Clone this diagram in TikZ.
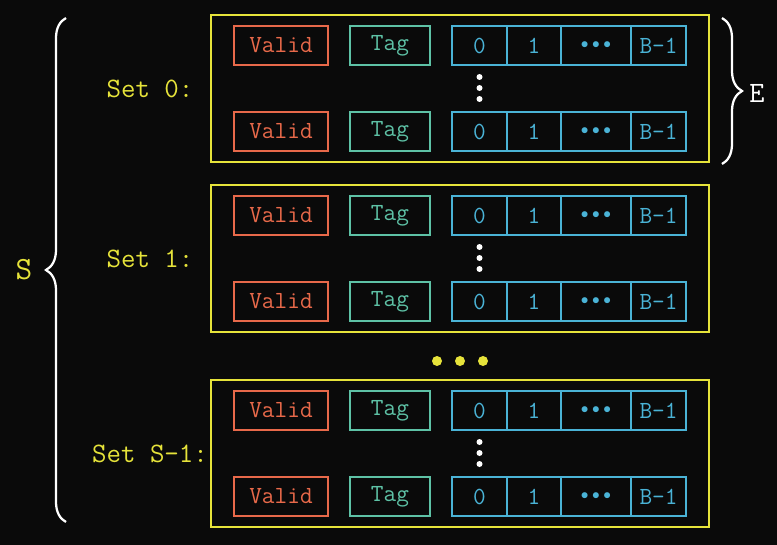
\documentclass[tikz,border=0pt]{standalone}
\usepackage{fontspec}
\usetikzlibrary{positioning,decorations.pathreplacing}

\definecolor{bgblack}{HTML}{0A0A0A}
\definecolor{validred}{HTML}{E8694A}
\definecolor{tagteal}{HTML}{5EC2A6}
\definecolor{blockblue}{HTML}{4AB3D6}
\definecolor{setyellow}{HTML}{E6E33A}

\newcommand{\celldots}{{\fontsize{11}{13}\selectfont$\bullet$\hspace{2.5pt}$\bullet$\hspace{2.5pt}$\bullet$}}

\tikzset{
  setbox/.style={draw=setyellow,line width=1.4pt,minimum width=12.45cm,minimum height=3.675cm,outer sep=0pt},
  setlabel/.style={text=setyellow,font=\ttfamily\fontsize{20}{24}\selectfont},
  validbox/.style={draw=validred,text=validred,line width=1.3pt,minimum width=2.35cm,minimum height=0.975cm,inner sep=0pt},
  tagbox/.style={draw=tagteal,text=tagteal,line width=1.3pt,minimum width=2cm,minimum height=0.975cm,inner sep=0pt},
  cell/.style={draw=blockblue,text=blockblue,line width=1.3pt,minimum height=0.975cm,inner sep=0pt,outer sep=0pt},
  bracket/.style={draw=white,line width=1.6pt,decorate,decoration={brace,amplitude=0.5cm}},
}

\begin{document}
\begin{tikzpicture}[x=0.025cm,y=-0.025cm,font=\ttfamily\fontsize{17.5}{21}\selectfont]

\fill[bgblack] (0,0) rectangle (777,545);

\foreach \s/\top/\lab in {0/15/Set 0:,1/185/Set 1:,2/380/Set S-1:}{
  \node[setbox] (set\s) at (460,\top+73.5) {};
  \node[setlabel] (label\s) at (150,\top+74) {\lab};
  \foreach \r/\off in {a/30.5,b/116.5}{
    \node[validbox] (valid\s\r) at (281,\top+\off) {Valid};
    \node[tagbox] (tag\s\r) at (390,\top+\off) {Tag};
    \node[cell,minimum width=1.375cm,anchor=west] (blk\s\r0) at (452,\top+\off) {0};
    \node[cell,minimum width=1.35cm,right=0pt of blk\s\r0] (blk\s\r1) {1};
    \node[cell,minimum width=1.75cm,right=0pt of blk\s\r1] (blk\s\r2) {\celldots};
    \node[cell,minimum width=1.375cm,right=0pt of blk\s\r2] (blk\s\r3) {B-1};
  }
  \foreach \d in {62,73,84}
    \fill[white] (479.5,\top+\d) circle (0.075cm);
}

\foreach \x in {437,460,483}
  \fill[setyellow] (\x,361) circle (0.125cm);

\coordinate (sbot) at (66,522);
\coordinate (stop) at (66,18);
\draw[bracket] (sbot) -- (stop);
\node[text=setyellow,font=\ttfamily\fontsize{23}{27}\selectfont] (slabel) at (24,270) {S};

\coordinate (etop) at (722,18);
\coordinate (ebot) at (722,164);
\draw[bracket] (etop) -- (ebot);
\node[text=white,font=\ttfamily\fontsize{21}{25}\selectfont] (elabel) at (757,93) {E};

\end{tikzpicture}
\end{document}
